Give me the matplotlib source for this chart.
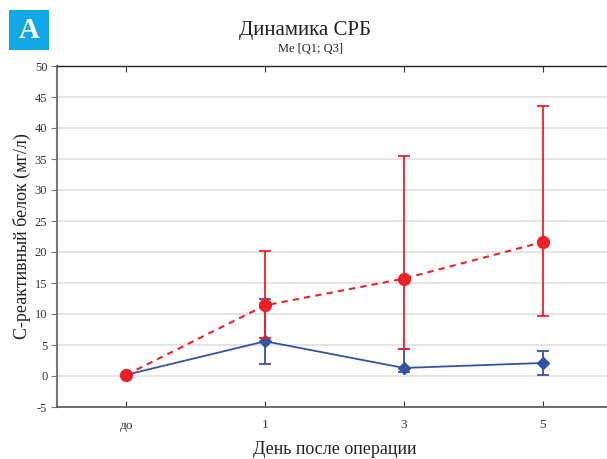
import matplotlib
matplotlib.use("Agg")
import matplotlib.pyplot as plt
from matplotlib.patches import Rectangle

categories = ["до", "1", "3", "5"]
red_med = [0.2, 11.4, 15.7, 21.6]
red_q1 = [0.2, 6.1, 4.4, 9.7]
red_q3 = [0.2, 20.2, 35.5, 43.6]
blue_med = [0.2, 5.6, 1.3, 2.1]
blue_q1 = [0.2, 2.0, 0.6, 0.2]
blue_q3 = [0.2, 12.4, 4.3, 4.0]
yticks = [-5, 0, 5, 10, 15, 20, 25, 30, 35, 40, 45, 50]

plt.rcParams['font.family'] = ['Liberation Serif', 'DejaVu Serif']

fig = plt.figure(figsize=(6.07, 4.59), dpi=100)
ax = fig.add_axes([57/607, 52/459, 555/607, 341/459])

x = list(range(len(categories)))
red = "#ee1f26"
blue = "#3553a3"

b_err = [[m - l for m, l in zip(blue_med, blue_q1)], [h - m for m, h in zip(blue_med, blue_q3)]]
r_err = [[m - l for m, l in zip(red_med, red_q1)], [h - m for m, h in zip(red_med, red_q3)]]

ax.errorbar(x, blue_med, yerr=b_err, color=blue, marker="D", markersize=6.5,
            linestyle="-", linewidth=1.3, capsize=4.5, elinewidth=1.3, capthick=1.3, zorder=3)
ax.errorbar(x, red_med, yerr=r_err, color=red, marker="o", markersize=8.5,
            linestyle=(0, (3, 2.5)), linewidth=1.5, capsize=4.5, elinewidth=1.3, capthick=1.3, zorder=4)

ax.set_xlim(-0.5, 3.5)
ax.set_ylim(-5, 50)
ax.set_yticks(yticks)
ax.set_yticklabels([str(v) for v in yticks], fontsize=9, color="#333333")
ax.set_xticks(x)
ax.set_xticklabels(categories, fontsize=9.5, color="#333333")
ax.yaxis.grid(True, color="#e2e2e2", linewidth=1.3)
ax.set_axisbelow(True)

ax.spines["left"].set_color("#777777")
ax.spines["left"].set_linewidth(1.5)
ax.spines["bottom"].set_color("#555555")
ax.spines["bottom"].set_linewidth(1.2)
ax.spines["top"].set_color("#222222")
ax.spines["top"].set_linewidth(1.0)
ax.spines["right"].set_visible(False)
ax.tick_params(axis="y", length=4, color="#777777", pad=3)
ax.tick_params(axis="x", direction="in", length=4, color="#333333", pad=9, top=True)

ax.set_ylabel("С-реактивный белок (мг/л)", fontsize=13, color="#222222", labelpad=3)
ax.set_xlabel("День после операции", fontsize=13, color="#222222", labelpad=7)

fig.text(305/607, 1 - 30/459, "Динамика СРБ", ha="center", va="center", fontsize=15, color="#222222")
fig.text(311/607, 1 - 49/459, "Me [Q1; Q3]", ha="center", va="center", fontsize=9, color="#222222")

fig.patches.append(Rectangle((9/607, 1 - 50/459), 40/607, 40/459, transform=fig.transFigure,
                             facecolor="#12a8e6", edgecolor="none"))
fig.text(29/607, 1 - 30/459, "A", ha="center", va="center", fontsize=21, color="white", fontweight="bold")

fig.savefig("out.png", dpi=100)
